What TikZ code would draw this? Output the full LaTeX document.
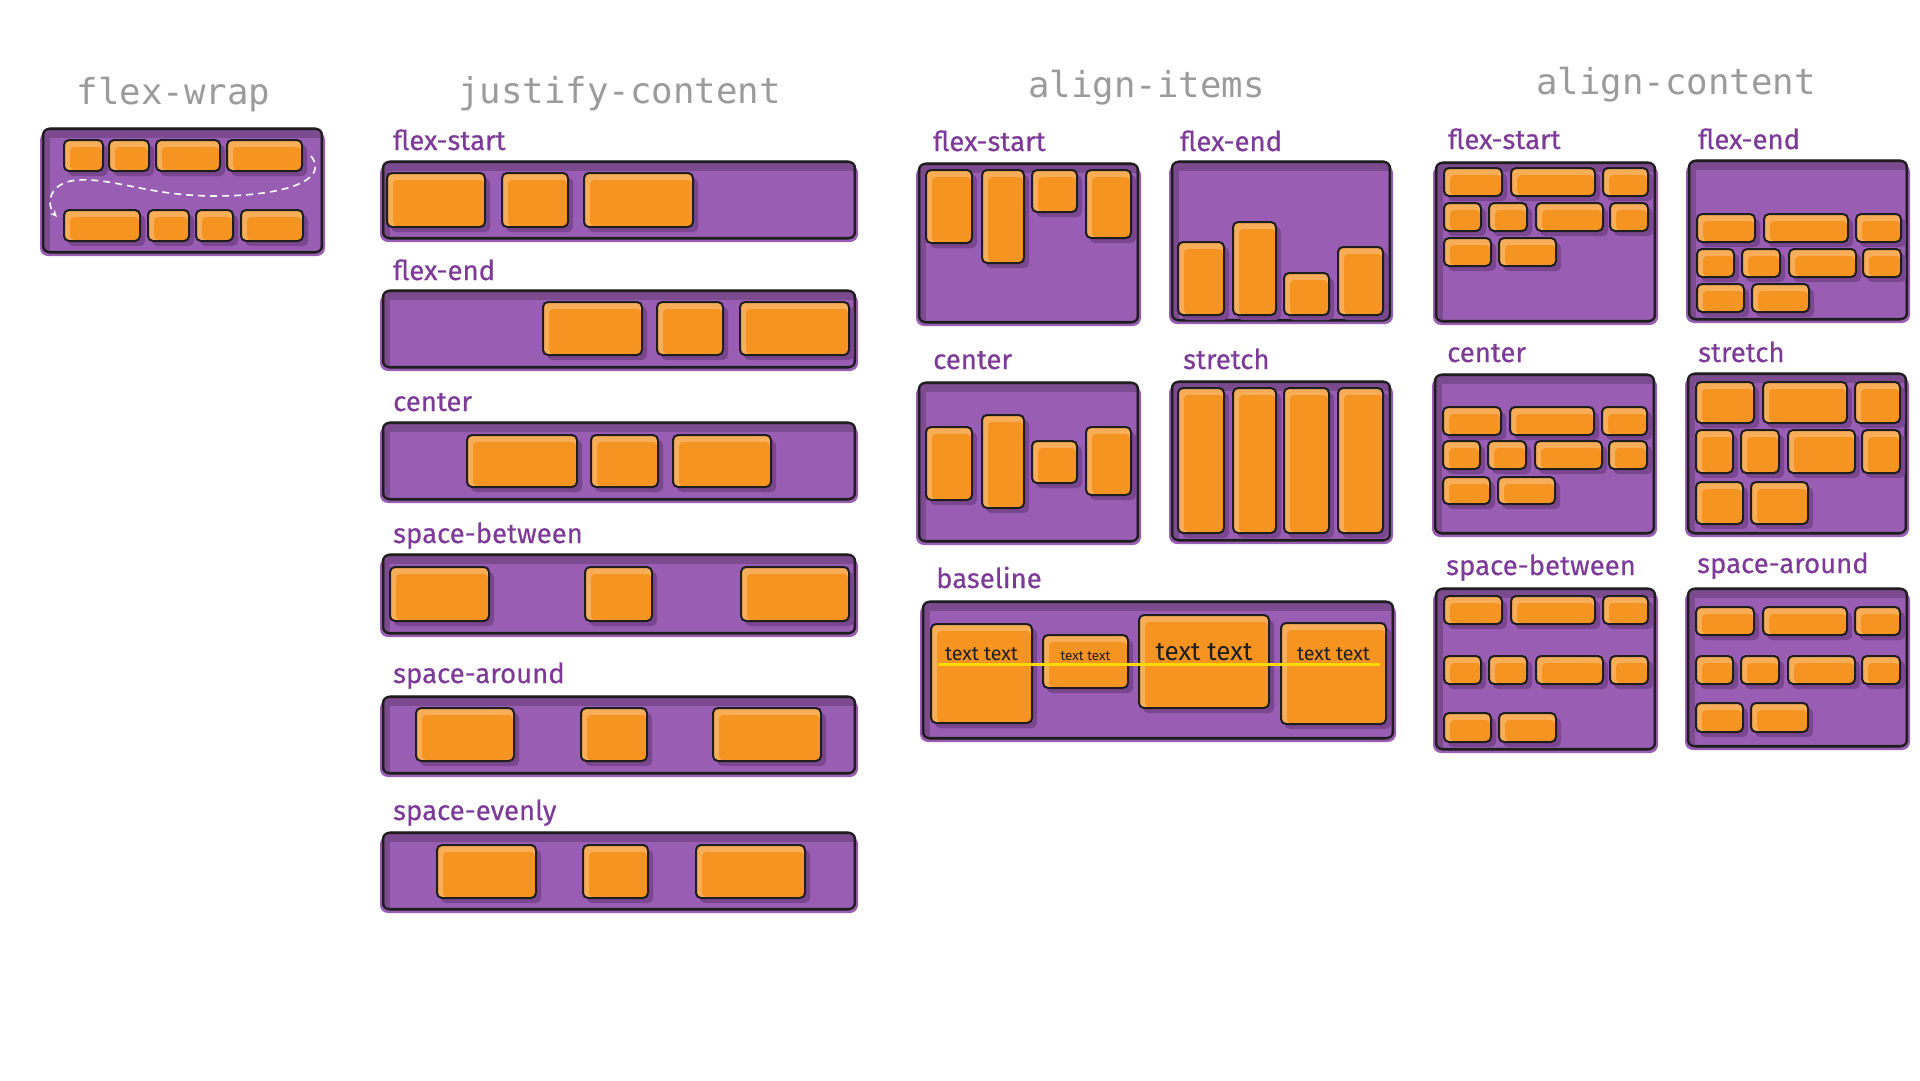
\documentclass[tikz,border=0pt]{standalone}
\usepackage{fontspec}
\setmainfont{Fira Sans}
\newfontfamily\lblfont{Fira Sans}[FakeBold=0.4]
\newfontfamily\monof{DejaVu Sans Mono}
\usetikzlibrary{arrows.meta}
\definecolor{boxp}{HTML}{9A5DB4}
\definecolor{boxdark}{HTML}{7C4A8F}
\definecolor{shadowp}{HTML}{7A4690}
\definecolor{ormain}{HTML}{F59421}
\definecolor{orlight}{HTML}{F8AE58}
\definecolor{lblpurple}{HTML}{7D3A98}
\definecolor{titlegray}{HTML}{9B9B9B}
\definecolor{inkc}{HTML}{1E1E1E}
\definecolor{baseyellow}{HTML}{FFD800}
\tikzset{
  titletext/.style={font=\monof\fontsize{35.7}{40}\selectfont, text=titlegray, anchor=base, inner sep=0pt},
  lbl/.style={font=\lblfont\fontsize{27.5}{31}\selectfont, text=lblpurple, anchor=base west, inner sep=0pt},
  boxline/.style={draw=inkc, line width=2.3pt},
  itemline/.style={draw=inkc, line width=2pt},
  sample/.style={text=inkc, anchor=base, inner sep=0pt},
}
\newcommand{\cbx}[4]{%
  \fill[boxp, rounded corners=8pt] (#1-3,#2+3) rectangle (#3+3,#4+4);
  \begin{scope}
    \clip[rounded corners=6pt] (#1,#2) rectangle (#3,#4);
    \fill[boxp] (#1,#2) rectangle (#3,#4);
    \fill[boxdark] (#1,#2) rectangle (#3,#2+9);
    \fill[boxdark] (#1,#2) rectangle (#1+7,#4);
  \end{scope}
  \draw[boxline, rounded corners=6pt] (#1,#2) rectangle (#3,#4);
  \draw[inkc, line width=0.7pt, rounded corners=6pt] (#1+1,#2-1.2) rectangle (#3-1,#4+1.2);
}
\newcommand{\itm}[4]{%
  \fill[shadowp, rounded corners=5pt] (#1+4,#2+5) rectangle (#3+5,#4+5);
  \fill[orlight, rounded corners=5pt] (#1,#2) rectangle (#3,#4);
  \fill[ormain, rounded corners=4pt] (#1+6,#2+7) rectangle (#3-1,#4-1);
  \draw[itemline, rounded corners=5pt] (#1,#2) rectangle (#3,#4);
}
\newcommand{\acrows}[7]{%
  \itm{#1+8}{#2}{#1+66}{#3}\itm{#1+75}{#2}{#1+159}{#3}\itm{#1+167}{#2}{#1+212}{#3}%
  \itm{#1+8}{#4}{#1+45}{#5}\itm{#1+53}{#4}{#1+91}{#5}\itm{#1+100}{#4}{#1+167}{#5}\itm{#1+174}{#4}{#1+212}{#5}%
  \itm{#1+8}{#6}{#1+55}{#7}\itm{#1+63}{#6}{#1+120}{#7}%
}
\begin{document}
\begin{tikzpicture}[x=1pt,y=-1pt]
\fill[white] (0,0) rectangle (1920,1080);
\useasboundingbox (0,0) rectangle (1920,1080);

% ---------- titles
\node[titletext] (tWrap) at (173.5,104) {flex-wrap};
\node[titletext] (tJust) at (619.5,103) {justify-content};
\node[titletext] (tAI) at (1146.5,97) {align-items};
\node[titletext] (tAC) at (1676,94) {align-content};

% ---------- flex-wrap
\cbx{43}{129}{322}{252}
\itm{64}{140}{103}{171}\itm{109}{140}{149}{171}\itm{156}{140}{220}{171}\itm{227}{140}{302}{171}
\itm{64}{210}{140}{241}\itm{148}{210}{189}{241}\itm{196}{210}{233}{241}\itm{241}{210}{303}{241}
\coordinate (wrapS) at (311,156);
\coordinate (wrapE) at (57,217);
\draw[white, line width=1.6pt, dash pattern=on 7pt off 5pt, -{Stealth[length=7pt,width=6pt]}]
  (wrapS) .. controls (330,180) and (285,196) .. (215,196)
  .. controls (150,196) and (115,178) .. (78,180)
  .. controls (48,182) and (46,205) .. (wrapE);

% ---------- justify-content
\node[lbl] (jfs) at (393,150) {flex-start};
\cbx{383}{162}{855}{238}
\itm{387}{173}{485}{227}\itm{502}{173}{568}{227}\itm{584}{173}{693}{227}

\node[lbl] (jfe) at (393,280) {flex-end};
\cbx{383}{291}{855}{367}
\itm{543}{302}{642}{355}\itm{657}{302}{723}{355}\itm{740}{302}{849}{355}

\node[lbl] (jc) at (393,411) {center};
\cbx{383}{423}{855}{499}
\itm{467}{435}{577}{487}\itm{591}{435}{658}{487}\itm{673}{435}{771}{487}

\node[lbl] (jsb) at (393,543) {space-between};
\cbx{383}{555}{855}{633}
\itm{390}{567}{489}{621}\itm{585}{567}{652}{621}\itm{741}{567}{849}{621}

\node[lbl] (jsa) at (393,683) {space-around};
\cbx{383}{697}{855}{773}
\itm{416}{708}{514}{761}\itm{581}{708}{647}{761}\itm{713}{708}{821}{761}

\node[lbl] (jse) at (393,820) {space-evenly};
\cbx{383}{833}{855}{909}
\itm{437}{845}{536}{898}\itm{583}{845}{648}{898}\itm{696}{845}{805}{898}

% ---------- align-items
\node[lbl] (aifs) at (933,151) {flex-start};
\cbx{919}{164}{1138}{322}
\itm{926}{170}{972}{243}\itm{982}{170}{1024}{263}\itm{1032}{170}{1077}{212}\itm{1086}{170}{1131}{238}

\node[lbl] (aife) at (1180,151) {flex-end};
\cbx{1172}{162}{1390}{320}
\itm{1178}{242}{1224}{315}\itm{1233}{222}{1276}{315}\itm{1284}{273}{1329}{315}\itm{1338}{247}{1383}{315}

\node[lbl] (aic) at (933,369) {center};
\cbx{919}{383}{1138}{541}
\itm{926}{427}{972}{500}\itm{982}{415}{1024}{508}\itm{1032}{441}{1077}{483}\itm{1086}{427}{1131}{495}

\node[lbl] (aist) at (1183,369) {stretch};
\cbx{1172}{382}{1390}{540}
\itm{1178}{388}{1224}{533}\itm{1233}{388}{1276}{533}\itm{1284}{388}{1329}{533}\itm{1338}{388}{1383}{533}

\node[lbl] (aib) at (936,588) {baseline};
\cbx{923}{602}{1393}{738}
\itm{931}{624}{1032}{723}\itm{1043}{635}{1128}{688}\itm{1139}{615}{1269}{708}\itm{1281}{623}{1386}{724}
\coordinate (baseA) at (938,664);
\coordinate (baseB) at (1380,664);
\draw[baseyellow, line width=3pt] (baseA) -- (baseB);
\node[sample, font=\fontsize{19.6}{22}\selectfont] (bt1) at (981.5,660) {text text};
\node[sample, font=\fontsize{13.4}{15}\selectfont] (bt2) at (1085.5,660) {text text};
\node[sample, font=\fontsize{26}{30}\selectfont] (bt3) at (1204,660) {text text};
\node[sample, font=\fontsize{19.6}{22}\selectfont] (bt4) at (1333.5,660) {text text};

% ---------- align-content
\node[lbl] (acfs) at (1448,149) {flex-start};
\cbx{1436}{163}{1655}{321}
\acrows{1436}{168}{196}{203}{231}{238}{266}

\node[lbl] (acfe) at (1698,149) {flex-end};
\cbx{1689}{161}{1907}{319}
\acrows{1689}{214}{242}{249}{277}{284}{312}

\node[lbl] (acc) at (1447,362) {center};
\cbx{1435}{375}{1654}{533}
\acrows{1435}{407}{435}{441}{469}{477}{504}

\node[lbl] (acst) at (1698,362) {stretch};
\cbx{1688}{374}{1906}{533}
\acrows{1688}{382}{423}{430}{473}{482}{524}

\node[lbl] (acsb) at (1446,575) {space-between};
\cbx{1436}{589}{1655}{749}
\acrows{1436}{596}{624}{656}{684}{713}{742}

\node[lbl] (acsa) at (1697,573) {space-around};
\cbx{1688}{589}{1907}{746}
\acrows{1688}{607}{635}{656}{684}{703}{732}
\end{tikzpicture}
\end{document}
